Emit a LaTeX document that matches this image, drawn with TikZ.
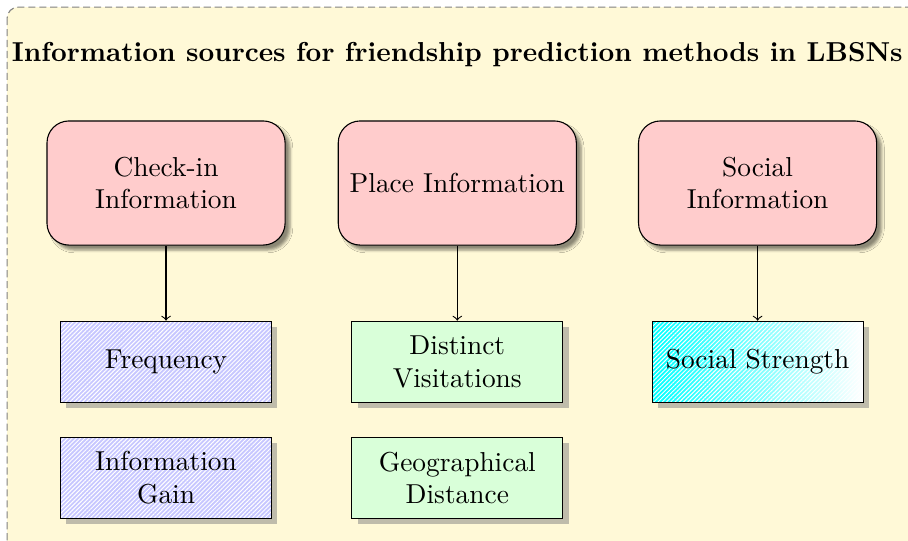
\documentclass[tikz,border=0pt]{standalone}
\usepackage{tikz}
\usetikzlibrary{positioning,shadows,shadows.blur,patterns.meta}
\definecolor{bgyellow}{RGB}{255,249,215}

\begin{document}
\begin{tikzpicture}[->,auto,node distance=27.4pt,
  source/.style={rectangle,rounded corners=8pt,draw=black,fill=red!20,
    blur shadow={shadow xshift=1.8pt,shadow yshift=-1.8pt,shadow blur radius=1pt,shadow opacity=45},
    align=center,minimum width=86.9pt,minimum height=45.3pt},
  featbox/.style={rectangle,draw=black,align=center,minimum width=77pt,minimum height=29.6pt,drop shadow},
  hatch/.style={pattern={Lines[angle=45,distance=1.1pt,line width=0.35pt]},pattern color=white!100},
  checkfeat/.style={featbox,preaction={fill=blue!22},hatch},
  placefeat/.style={featbox,fill=green!15},
  socialfeat/.style={featbox,preaction={left color=cyan,right color=white},hatch}]
  \useasboundingbox (0,0) rectangle (331.4pt,-197.1pt);
  \clip (0,0) rectangle (331.4pt,-197.1pt);
  \draw[-,gray,dash pattern=on 2.6pt off 1.4pt,fill=bgyellow,rounded corners=4pt] (2.6pt,-2.6pt) rectangle (345pt,-212pt);

  \node [source] (checkin) at (60.6pt,-66.8pt) {Check-in\\Information};
  \node [source,right=19pt of checkin] (place) {Place Information};
  \node [source,right=22.3pt of place] (social) {Social\\Information};
  \node [font=\bfseries,above=16pt of place] (title) {Information sources for friendship prediction methods in LBSNs};

  \node [checkfeat,below=of checkin] (freq) {Frequency};
  \node [checkfeat,below=12.4pt of freq] (gain) {Information\\Gain};
  \node [placefeat,below=of place] (visits) {Distinct\\Visitations};
  \node [placefeat,below=12.4pt of visits] (dist) {Geographical\\Distance};
  \node [socialfeat,below=of social] (strength) {Social Strength};

  \path[->] (checkin) edge (freq);
  \path[->] (place) edge (visits);
  \path[->] (social) edge (strength);
\end{tikzpicture}
\end{document}
